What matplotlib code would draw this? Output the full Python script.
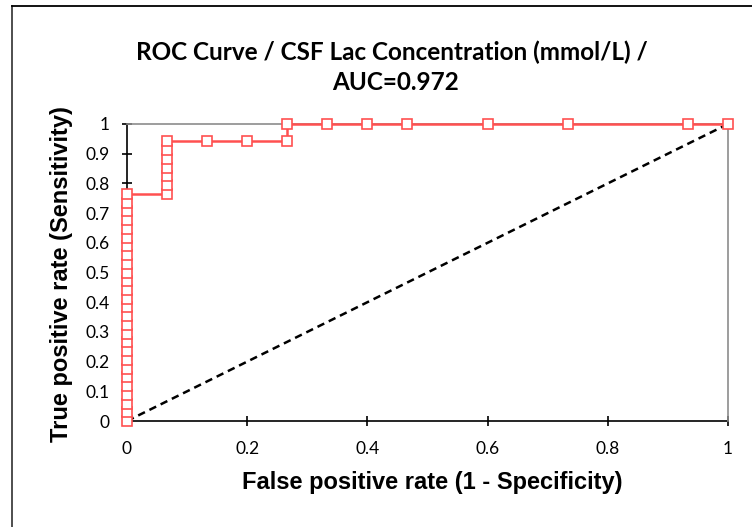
import matplotlib
matplotlib.use('Agg')
import matplotlib.pyplot as plt
from matplotlib.lines import Line2D

# ROC points (1 - specificity, sensitivity)
n_pos = 34
n_neg = 15
fpr_counts = [0] * 27 + [1] * 7 + [2, 3, 4, 4, 5, 6, 7, 9, 11, 14, 15]
tpr_counts = list(range(0, 27)) + list(range(26, 33)) + [32, 32, 32, 34, 34, 34, 34, 34, 34, 34, 34]
fpr = [c / n_neg for c in fpr_counts]
tpr = [c / n_pos for c in tpr_counts]

x_ticks = [0, 0.2, 0.4, 0.6, 0.8, 1]
x_tick_labels = ['0', '0.2', '0.4', '0.6', '0.8', '1']
y_ticks = [0, 0.1, 0.2, 0.3, 0.4, 0.5, 0.6, 0.7, 0.8, 0.9, 1]
y_tick_labels = ['0', '0.1', '0.2', '0.3', '0.4', '0.5', '0.6', '0.7', '0.8', '0.9', '1']

red = '#ff5050'

fig = plt.figure(figsize=(7.52, 5.27), dpi=100)
ax = fig.add_axes([127 / 752, 1 - 421 / 527, 601 / 752, 297 / 527])

# diagonal reference line
ax.plot([0, 1], [0, 1], color='black', linestyle=(0, (3, 2)), linewidth=1.8, zorder=2)
ax.plot(fpr, tpr, color=red, linewidth=1.8, marker='s', markersize=7,
        markerfacecolor='white', markeredgecolor=red, markeredgewidth=1.2,
        zorder=3, clip_on=False)

ax.set_xlim(0, 1)
ax.set_ylim(0, 1)
ax.set_xticks(x_ticks)
ax.set_xticklabels(x_tick_labels)
ax.set_yticks(y_ticks)
ax.set_yticklabels(y_tick_labels)

for side in ['top', 'right']:
    ax.spines[side].set_color('#8c8c8c')
    ax.spines[side].set_linewidth(1.2)
for side in ['left', 'bottom']:
    ax.spines[side].set_color('black')
    ax.spines[side].set_linewidth(1.2)
    ax.spines[side].set_zorder(1)

ax.tick_params(direction='inout', length=7, width=1.2, color='black',
               labelsize=12.5, pad=9)
for lab in ax.get_xticklabels() + ax.get_yticklabels():
    lab.set_family('Lato')
ax.tick_params(axis='x', pad=11)

fig.text(432 / 752, 1 - 483 / 527, 'False positive rate (1 - Specificity)',
         ha='center', va='center', family='Liberation Sans', fontweight='bold', fontsize=17)
fig.text(62 / 752, 1 - 274 / 527, 'True positive rate (Sensitivity)', rotation=90,
         ha='center', va='center', family='Liberation Sans', fontweight='bold', fontsize=17)

fig.text(392 / 752, 1 - 52 / 527, 'ROC Curve / CSF Lac Concentration (mmol/L) /',
         ha='center', va='center', family='Lato', fontweight='bold', fontsize=17.5)
fig.text(396 / 752, 1 - 82 / 527, 'AUC=0.972',
         ha='center', va='center', family='Lato', fontweight='bold', fontsize=17.5)

# chart area border (left and top edges visible)
fig.add_artist(Line2D([12 / 752, 12 / 752], [0, 1 - 6 / 527], color='#404040', linewidth=1.3))
fig.add_artist(Line2D([12 / 752, 1], [1 - 6 / 527, 1 - 6 / 527], color='black', linewidth=1.3))

fig.savefig('out.png', dpi=100)
